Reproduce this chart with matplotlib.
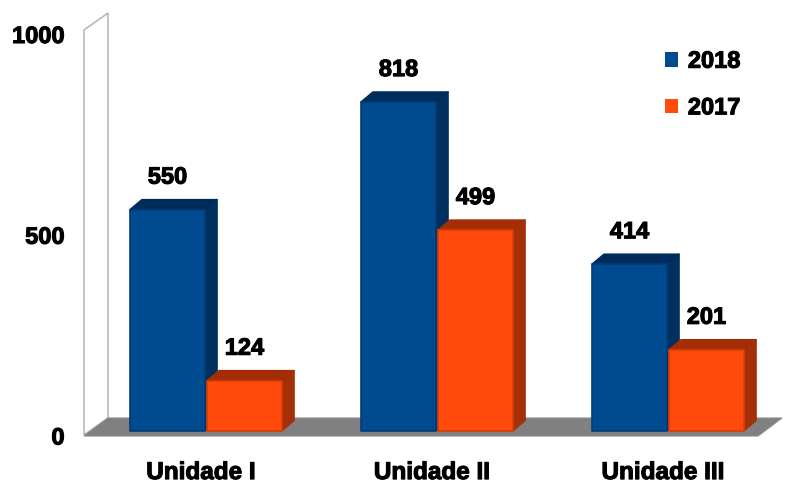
import matplotlib
matplotlib.use("Agg")
import matplotlib.pyplot as plt
import matplotlib.patheffects as pe
from matplotlib.patches import Polygon, Patch
from matplotlib.transforms import ScaledTranslation
import numpy as np

# values
categories = ["Unidade I", "Unidade II", "Unidade III"]
values_2018 = [550, 818, 414]
values_2017 = [124, 499, 201]
y_ticks = [0, 500, 1000]

W, H = 795, 484
X0, X2 = 206, 668      # pixel of first/last group centre
Y0, Y1000 = 430.5, 29  # pixel of value 0 / 1000 on the bar plane
LEFT, RIGHT = 84, 782

BLUE = ("#004a90", "#002f60", "#002c5c", "#003c78")
ORANGE = ("#ff4a0c", "#a52f06", "#a32e05", "#d83c08")

plt.rcParams['font.family'] = ['Liberation Sans', 'DejaVu Sans']
stroke = [pe.withStroke(linewidth=0.8, foreground='black')]

fig = plt.figure(figsize=(W / 100, H / 100), dpi=100)
ax = fig.add_axes([LEFT / W, 1 - Y0 / H, (RIGHT - LEFT) / W, (Y0 - Y1000) / H])
unit = (X2 - X0) / 2
ax.set_xlim((LEFT - X0) / unit, (RIGHT - X0) / unit)
ax.set_ylim(0, 1000)
ax.patch.set_visible(False)
for s in ax.spines.values():
    s.set_visible(False)


def px(points):
    # wall and floor are decoration, placed in figure pixels
    return [(x / W, 1 - y / H) for x, y in points]


# left wall and floor, kept behind the axes
fig.add_artist(Polygon(px([(84, 435), (84, 30), (108, 13), (108, 418)]), closed=True,
                       facecolor='white', edgecolor='#b9b9b9', linewidth=1.2, zorder=-2))
fig.add_artist(Polygon(px([(84, 436), (108, 418), (782, 418), (758, 436)]), closed=True,
                       facecolor='#808080', edgecolor='#8a8a8a', linewidth=0.8, zorder=-1))

bar_w = 75 / unit
gap = 2 / unit
dx = 12 / unit
dy = 10 / ((Y0 - Y1000) / 1000)


def draw_bar(x, v, cols):
    left = x - bar_w / 2
    right = x + bar_w / 2
    # side and top faces
    ax.add_patch(Polygon([(right, 0), (right + dx, dy), (right + dx, v + dy), (right, v)],
                         closed=True, facecolor=cols[1], edgecolor=cols[1], linewidth=1.2,
                         joinstyle='round', clip_on=False, zorder=2))
    ax.add_patch(Polygon([(left, v), (left + dx, v + dy), (right + dx, v + dy), (right, v)],
                         closed=True, facecolor=cols[2], edgecolor=cols[2], linewidth=1.2,
                         joinstyle='round', clip_on=False, zorder=2))
    ax.bar(x, v, width=bar_w, color=cols[0], edgecolor=cols[3], linewidth=1.2, zorder=3,
           clip_on=False, joinstyle='round')
    ax.annotate(str(v), xy=(x, v), xytext=(0, 32.5 * 0.72), textcoords='offset points',
                ha='center', va='center', fontsize=17, fontweight='bold', color='black',
                path_effects=stroke, zorder=5)


positions = np.arange(len(categories))
for i in positions:
    draw_bar(i - (bar_w + gap) / 2, values_2018[i], BLUE)
    draw_bar(i + (bar_w + gap) / 2, values_2017[i], ORANGE)

# axis labels
ax.set_yticks(y_ticks)
ax.set_yticklabels([str(v) for v in y_ticks])
ax.set_xticks(positions)
ax.set_xticklabels(categories)
ax.tick_params(axis='y', length=0, labelsize=17, pad=14)
ax.tick_params(axis='x', length=0, labelsize=17.5, pad=22)
shift_y = ScaledTranslation(0, -5 / 100, fig.dpi_scale_trans)
shift_x = ScaledTranslation(-5 / 100, 0, fig.dpi_scale_trans)
for t in ax.get_yticklabels():
    t.set_transform(t.get_transform() + shift_y)
    t.set_fontweight('bold')
    t.set_path_effects(stroke)
for t in ax.get_xticklabels():
    t.set_transform(t.get_transform() + shift_x)
    t.set_fontweight('bold')
    t.set_path_effects(stroke)

handles = [Patch(facecolor=BLUE[0], label="2018"), Patch(facecolor=ORANGE[0], label="2017")]
leg = fig.legend(handles=handles, frameon=False, loc='upper left',
                 bbox_to_anchor=(660 / W, 1 - 45 / H), fontsize=17,
                 handlelength=0.58, handleheight=0.58, handletextpad=0.4,
                 labelspacing=1.0, borderaxespad=0, borderpad=0.2)
for t in leg.get_texts():
    t.set_fontweight('bold')
    t.set_path_effects(stroke)

fig.savefig("out.png", dpi=100)
